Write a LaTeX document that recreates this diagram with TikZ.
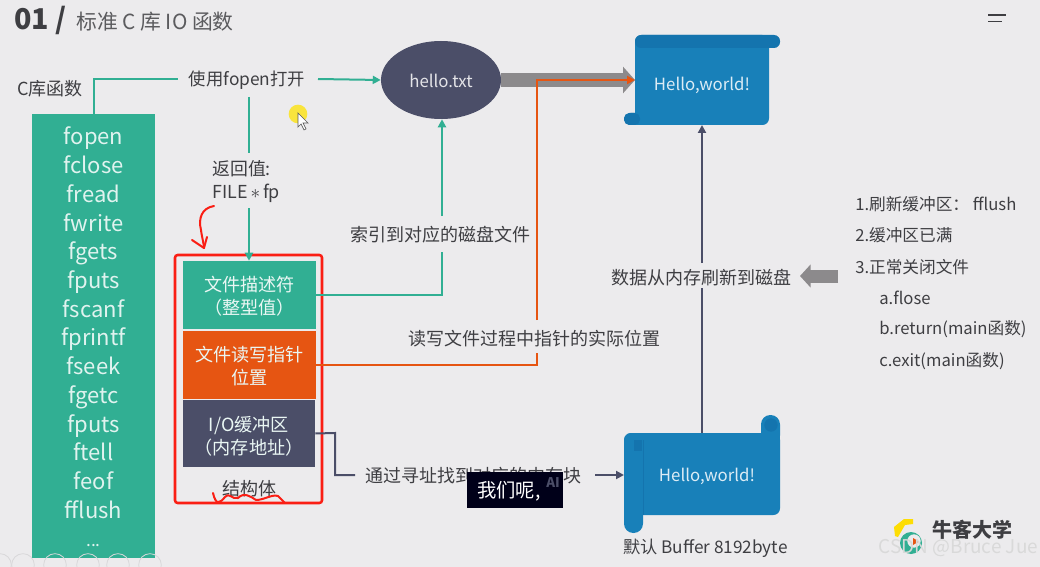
\documentclass[tikz,border=0pt]{standalone}
\usepackage{fontspec}
\setmainfont{Noto Sans CJK SC}
\usetikzlibrary{arrows.meta,shapes.geometric}
\definecolor{bgc}{HTML}{ECEBED}
\definecolor{teal1}{HTML}{31AF93}
\definecolor{orange1}{HTML}{E65512}
\definecolor{slate1}{HTML}{4B4E68}
\definecolor{blue1}{HTML}{1880B9}
\definecolor{blue2}{HTML}{1474AE}
\definecolor{txt}{HTML}{3E3E42}
\definecolor{redm}{HTML}{FA1E14}
\definecolor{gray1}{HTML}{8C8A8C}
\newcommand{\fs}[1]{\fontsize{#1}{#1}\selectfont}
\newcommand{\fl}[2]{\fontsize{#1}{#2}\selectfont}
\tikzset{
 lbl/.style={inner sep=0pt,text=txt,font=\fs{13.5}},
 rlbl/.style={inner sep=0pt,anchor=west,text=txt,font=\fs{12.5}},
 whitebox/.style={inner sep=0pt,text=white!90!teal1,align=center,font=\fl{13.6}{17}},
 tealline/.style={draw=teal1,line width=1.5pt},
 oline/.style={draw=orange1,line width=1.5pt},
 sline/.style={draw=slate1,line width=1.5pt},
 tip/.style={-{Triangle[length=6pt,width=6pt]}},
 mark1/.style={draw=redm,line width=1.5pt,line cap=round,line join=round},
}
\begin{document}
\begin{tikzpicture}[x=0.75pt,y=-0.75pt]
\fill[bgc] (0,0) rectangle (1040,567);
\useasboundingbox (0,0) rectangle (1040,567);
% title
\node[inner sep=0pt,anchor=west,text=txt,font=\fs{21.5}\bfseries] (ttl) at (14,20) {01 /};
\node[inner sep=0pt,anchor=west,text=txt!85!white,font=\fs{15.6}] (sub) at (76,22) {标准 C 库 IO 函数};
\draw[draw=txt,line width=1.1pt] (988,15)--(1006,15) (988,21.5)--(1002,21.5);
% left list
\node[lbl,anchor=west] (clib) at (17,89) {C库函数};
\node[fill=teal1,inner sep=0pt,minimum width=92.25pt,minimum height=333pt] (list) at (93.5,336) {};
\foreach \t/\y in {fopen/145,fclose/173.7,fread/202.4,fwrite/231.1,fgets/259.8,fputs/288.5,fscanf/317.2,fprintf/345.9,fseek/374.6,fgetc/403.3,fputs/432,ftell/460.7,feof/489.4,fflush/518.1}
 \node[inner sep=0pt,anchor=base,text=white!85!teal1,font=\fs{16.5}] at (93.5,\y) {\t};
\node[inner sep=0pt,anchor=base,text=white!85!teal1,font=\fs{13}] at (93.5,546) {...};
% main labels
\node[lbl,font=\fs{13},minimum width=105pt,minimum height=13pt] (open) at (247,80) {使用fopen打开};
\node[lbl,align=left,anchor=west,font=\fl{13.4}{17.3}] (ret) at (212,181.5) {返回值:\\FILE\,$*$\,fp};
\coordinate (retT) at (249,153);
\coordinate (retB) at (249,208);
\coordinate (openB) at (249,97);
\node[ellipse,fill=slate1,minimum width=90pt,minimum height=58.5pt,inner sep=0pt] (hello) at (441,80) {};
\node[inner sep=0pt,text=white!85!slate1,font=\fs{12.6}] (hellot) at (441,81) {hello.txt};
% scroll 1
\fill[blue1,rounded corners=5pt] (635,35) rectangle (769,125);
\fill[blue1,rounded corners=5pt] (624,113) rectangle (650,125);
\fill[blue2,rounded corners=4.5pt] (635,35) rectangle (780,48);
\fill[blue1] (640,48) rectangle (769,60);
\fill[blue2] (642,42) circle (3pt);
\fill[blue2,rounded corners=4pt] (624,113) rectangle (640,125);
\node[inner sep=0pt,text=white!85!blue1,font=\fs{12.6}] (s1) at (702,85) {Hello,world!};
\coordinate (s1W) at (635,80);
\coordinate (s1S) at (702,125);
% scroll 2
\fill[blue1,rounded corners=7pt] (761,415) rectangle (780,445);
\fill[blue2] (771,425) circle (5pt);
\fill[blue1,rounded corners=5pt] (624,433) rectangle (780,515);
\fill[blue1] (761,433) rectangle (780,440);
\fill[blue1,rounded corners=7pt] (624,433) rectangle (643,533);
\fill[blue2] (634,440) rectangle (642,451);
\fill[blue2] (643,440) rectangle (644,515);
\node[inner sep=0pt,text=white!85!blue1,font=\fs{12.6}] (s2) at (707,476) {Hello,world!};
\coordinate (s2W) at (624,475);
\coordinate (s2N) at (702,433);
\node[lbl,font=\fs{12.9}] (buf) at (705.5,548) {默认 Buffer 8192byte};
% struct
\node[fill=teal1,minimum width=99.75pt,minimum height=51pt,inner sep=0pt] (fd) at (249.5,295) {};
\node[whitebox] at (249.5,296) {文件描述符\\（整型值）};
\node[fill=orange1,minimum width=99.75pt,minimum height=51pt,inner sep=0pt] (rw) at (249.5,365) {};
\node[whitebox] at (249.5,366) {文件读写指针\\位置};
\node[fill=slate1,minimum width=99pt,minimum height=50.25pt,inner sep=0pt] (io) at (249,433.5) {};
\node[whitebox] at (249,436) {I/O缓冲区\\（内存地址）};
\node[lbl] (st) at (249,489) {结构体};
\draw[draw=redm,line width=1.9pt,rounded corners=2pt] (175,255) rectangle (322,503);
% connector labels
\node[lbl] (idx) at (440.5,235) {索引到对应的磁盘文件};
\node[lbl] (rwl) at (534,339) {读写文件过程中指针的实际位置};
\node[lbl] (addr) at (473.5,476) {通过寻址找到对应的内存块};
\node[lbl] (flush) at (701,278) {数据从内存刷新到磁盘};
\coordinate (idxT) at (442,216);
\coordinate (idxB) at (442,252);
\coordinate (rwT) at (537,320);
\coordinate (rwB) at (537,353);
\coordinate (addrW) at (355,475);
\coordinate (addrE) at (595,475);
\coordinate (flT) at (702,263);
\coordinate (flB) at (702,288);
% connectors
\draw[tealline] (list.north) -- (93.5,79) -- (178,79);
\draw[tealline,tip] (318,79) -- (hello.west);
\draw[tealline] (openB) -- (retT);
\draw[tealline,tip] (retB) -- (fd.north -| retB);
\draw[tealline] (fd.east) -- (fd.east -| idxB) -- (idxB);
\draw[tealline,tip] (idxT) -- (hello.south -| idxT);
\coordinate (grayW) at (hello.east);
\draw[draw=gray1,line width=10.5pt,-{Triangle[length=9pt,width=19.5pt]}] (grayW) -- (s1W);
\draw[oline] (rw.east) -- (rw.east -| rwB) -- (rwB);
\draw[oline,line width=2pt,tip] (rwT) -- (rwT |- s1W) -- (s1W);
\draw[sline] (io.east) -- (335,433) -- (335,475) -- (addrW);
\draw[sline,tip] (addrE) -- (s2W);
\draw[sline] (s2N) -- (flB);
\draw[sline,tip] (flT) -- (s1S);
% big arrow
\coordinate (barrowR) at (838,276);
\coordinate (barrowL) at (800,276);
\draw[draw=gray1,line width=9.75pt,-{Triangle[length=8pt,width=17pt]}] (barrowR) -- (barrowL);
% right list
\node[rlbl] (r1) at (855,204) {1.刷新缓冲区： fflush};
\node[rlbl] (r2) at (855,235) {2.缓冲区已满};
\node[rlbl] (r3) at (855,267) {3.正常关闭文件};
\node[rlbl] (r4) at (879,298) {a.flose};
\node[rlbl] (r5) at (879,329) {b.return(main函数)};
\node[rlbl] (r6) at (879,361) {c.exit(main函数)};
% hand marks
\draw[mark1] (214,206) .. controls (202,208) and (198,218) .. (201,230) .. controls (202,238) and (204,244) .. (204,248);
\draw[mark1] (192,240) -- (204,248) -- (207,237);
\draw[mark1] (213,493) .. controls (216,506) and (220,503) .. (225,497) .. controls (230,492) and (232,500) .. (238,498) .. controls (244,492) and (250,496) .. (256,500) .. controls (264,500) and (272,494) .. (278,496) -- (285,503);
% cursor
\fill[yellow!85!orange,opacity=.75] (298,114) circle (7pt);
\draw[fill=white,draw=black!65,line width=.5pt] (298,113) -- (298,127) -- (301,124) -- (304,130) -- (306,129) -- (303,123) -- (308,123) -- cycle;
% subtitle
\fill[black!90!blue] (467,472) rectangle (563,508);
\node[inner sep=0pt,text=white,font=\fs{14.5}] (subt) at (509,491) {我们呢,};
\node[inner sep=0pt,text=slate1,font=\fs{10}\bfseries] at (553,483) {AI};
% logo
\fill[yellow!80!orange] (894,527) -- (904,519) -- (913,519) -- (913,524) -- (905,525) -- (898,537) -- (895,536) -- cycle;
\fill[teal1] (911,543) circle (8.25pt);
\fill[bgc] (914,541) circle (5pt);
\fill[orange1] (913,538) -- (919,541.5) -- (913,545) -- cycle;
\node[inner sep=0pt,text=txt,font=\fs{15}\bfseries] (logo) at (972.5,530) {牛客大学};
\node[inner sep=0pt,text=white!70!gray,font=\fs{14.2}] (wm) at (958.5,548) {CSDN @Bruce Jue};
% player icons
\foreach \x in {0,23,55,88,118,150}
 \draw[black!8!bgc,line width=.6pt] (\x,565) circle (8.5pt);
\end{tikzpicture}
\end{document}
